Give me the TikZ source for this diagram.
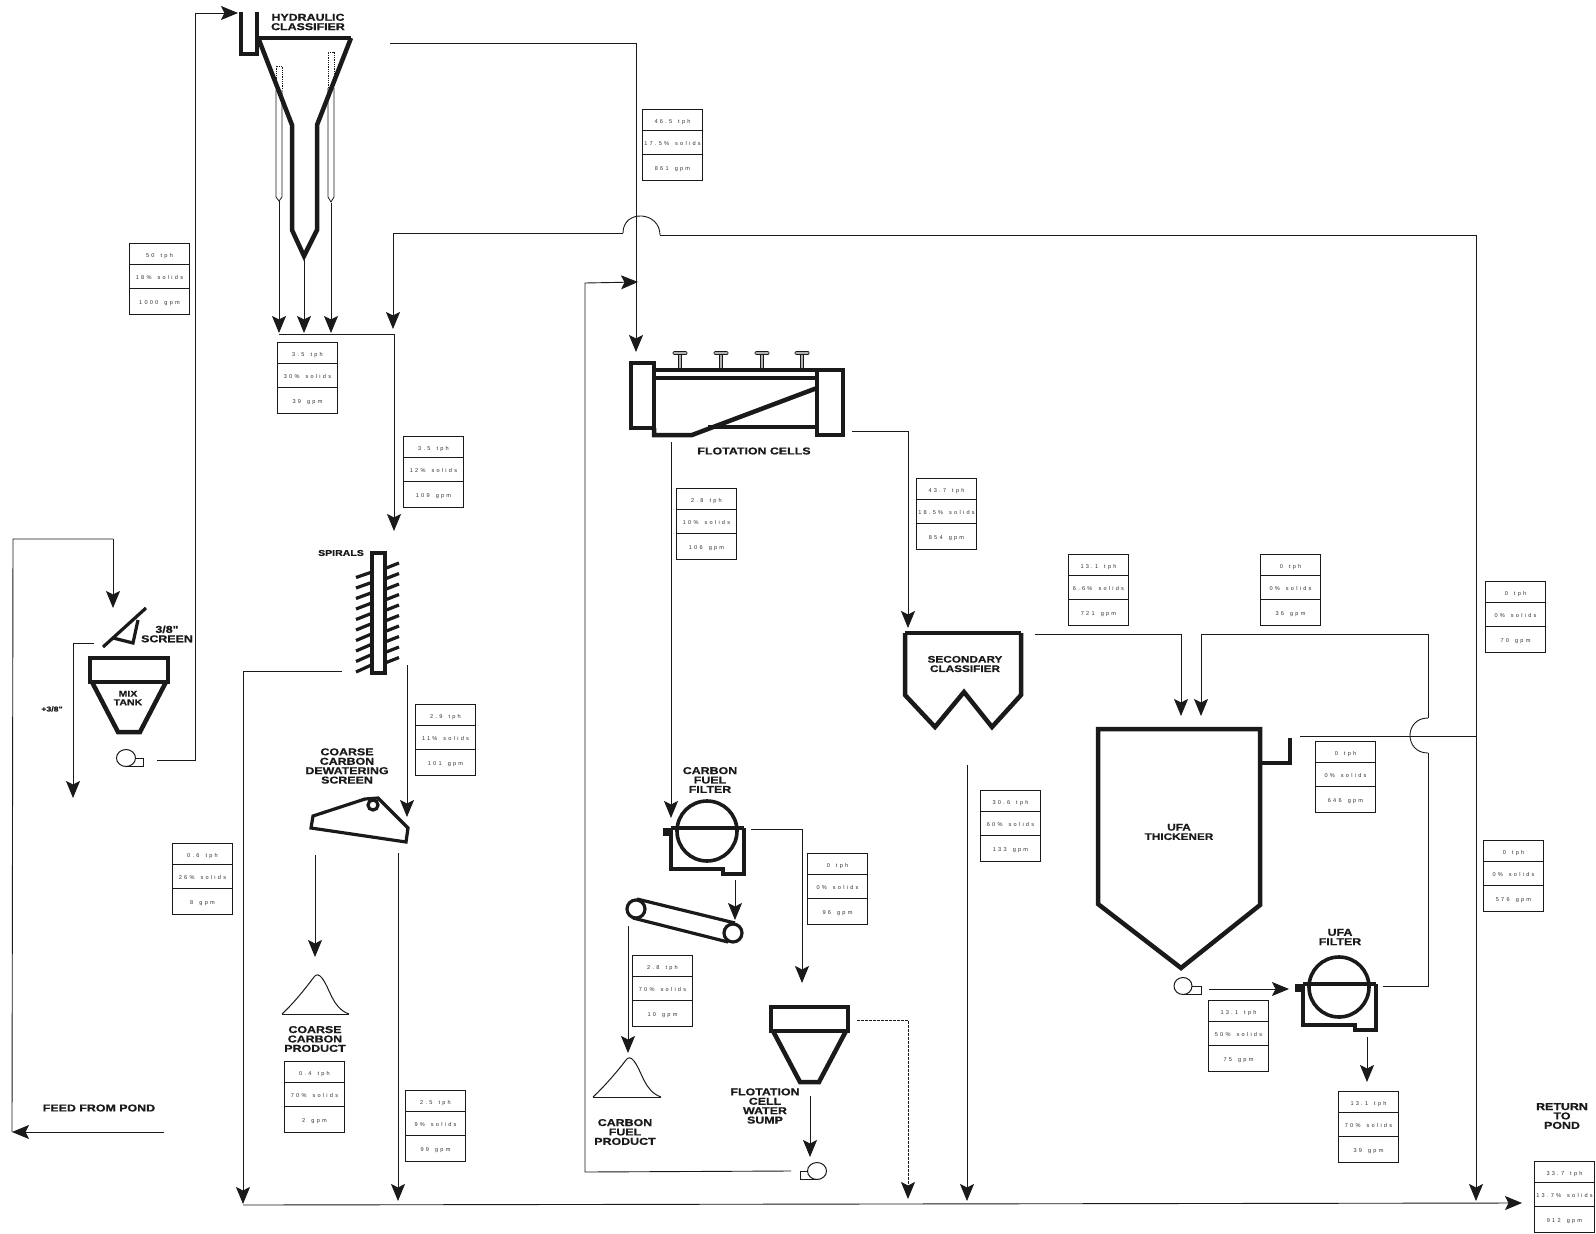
\documentclass[tikz,border=0pt]{standalone}
\usepackage{fontspec}
\setmainfont{Liberation Sans}
\newfontfamily\lab[FakeStretch=1.24,FakeBold=0.7,UprightFont=* Bold]{Liberation Sans}
\newfontfamily\tbl[LetterSpace=40,WordSpace=1.6]{Liberation Sans}
\usetikzlibrary{arrows.meta,calc}
\definecolor{ink}{HTML}{1A1A1A}
\definecolor{tinkc}{HTML}{333333}
\tikzset{
  flow/.style={draw=ink,line width=0.9pt},
  flowa/.style={flow,-{Stealth[length=17pt,width=14pt,inset=3.5pt]}},
  flowd/.style={flowa,densely dashed},
  equip/.style={draw=ink,line width=4.5pt,miter limit=6},
  equipm/.style={draw=ink,line width=3.2pt},
  thinb/.style={draw=ink,line width=1pt},
  lbl/.style={font=\lab\fontsize{10}{9.4}\selectfont,text=ink,align=center,inner sep=0pt},
  tblbox/.style={draw=ink,line width=1pt,minimum width=60pt,minimum height=70.5pt,inner sep=0pt,anchor=north west},
  tbltxt/.style={font=\tbl\fontsize{5.6}{6}\selectfont,text=tinkc,inner sep=0pt},
}
\newcommand{\flowtbl}[6]{%
  \node[tblbox] (#1) at (#2,#3) {};
  \draw[thinb] ([yshift=-21.5pt]#1.north west) -- ([yshift=-21.5pt]#1.north east);
  \draw[thinb] ([yshift=-45.5pt]#1.north west) -- ([yshift=-45.5pt]#1.north east);
  \node[tbltxt] (#1a) at ([yshift=-13.5pt]#1.north) {#4};
  \node[tbltxt] (#1b) at ([yshift=-34.5pt]#1.north) {#5};
  \node[tbltxt] (#1c) at ([yshift=-60pt]#1.north) {#6};
}
\newcommand{\filterunit}[2]{%
  \begin{scope}[shift={(#1,#2)}]
    \draw[equipm,line width=3.6pt] (-36,-3) -- (37,-3);
    \draw[equipm,line width=3.6pt] (-36,-3) -- (-36,38) -- (16,38) -- (16,43) -- (37,43) -- (37,-3);
    \draw[equipm,line width=3.6pt] (0,0) circle[radius=30];
    \fill[ink] (-44,-3) rectangle (-36,5);
  \end{scope}
}
\newcommand{\tankunit}[6]{%
  \draw[equip] (#1,#2) rectangle (#3,#4);
  \draw[equip] (#1+2,#4) -- (#5,#6) -- ({#1+#3-#5},#6) -- (#3-2,#4);
}
\begin{document}
\begin{tikzpicture}[x=1pt,y=-1pt]
\useasboundingbox (0,0) rectangle (1596,1234);
\fill[white] (0,0) rectangle (1596,1234);

% ---------- hydraulic classifier
\draw[equip] (241,12) -- (241,54) -- (257,54) -- (257,12);
\draw[equip] (351,38) -- (257,38);
\draw[equip] (259,40) -- (292,125) -- (292,230) -- (304,256) -- (317,230) -- (317,125) -- (351,38);
\draw[thinb,line width=.8pt] (276,90) -- (276,197) -- (279,201) -- (282,197) -- (282,90);
\draw[thinb,line width=.8pt] (328,88) -- (328,197) -- (331,202) -- (334,197) -- (334,88);
\draw[thinb,line width=.8pt,densely dotted] (276,90) -- (276,66) -- (282,66) -- (282,90);
\draw[thinb,line width=.8pt,densely dotted] (328,88) -- (328,52) -- (334,52) -- (334,75);
\node[lbl] (Lhyd) at (308,22) {HYDRAULIC\\CLASSIFIER};

% ---------- screen and mix tank
\draw[equipm] (103,647) -- (146,608);
\draw[equipm] (113,638) -- (133,643) -- (138,620);
\tankunit{90}{658}{168}{682}{118}{732}
\node[lbl,font=\lab\fontsize{8.5}{8.6}\selectfont] (Lmix) at (128,698) {MIX\\TANK};
\node[lbl] (Lscr) at (167,634) {3/8"\\SCREEN};
\node[lbl,font=\lab\fontsize{7}{8}\selectfont] (Lplus) at (52,709) {+3/8"};
\draw[thinb] (126,758) ellipse[x radius=9.5,y radius=8.5];
\draw[thinb] (135,758) -- (143,758) -- (143,766) -- (126,766);

% ---------- spirals
\draw[equipm] (372,553) rectangle (385,673);
\foreach \k in {0,...,9}{
  \draw[equipm] (372,{572+10.3*\k}) -- (356,{577.5+10.5*\k});
  \draw[equipm] (385,{568.5+10.5*\k}) -- (399,{563+10.5*\k});
}
\node[lbl,font=\lab\fontsize{8.5}{9}\selectfont] (Lspi) at (341,553) {SPIRALS};

% ---------- coarse carbon screen
\draw[equipm] (311,828) -- (313,816) -- (365,799) -- (378,798) -- (408,828) -- (406,842) -- cycle;
\draw[equipm,fill=white] (373,805) circle[radius=5];
\node[lbl] (Lcds) at (347,766) {COARSE\\CARBON\\DEWATERING\\SCREEN};

% ---------- coarse carbon product
\draw[thinb] (282,1014) -- (349,1014);
\draw[thinb] (282,1014) .. controls (295,1002) and (308,985) .. (314,977) .. controls (316,974) and (319,974) .. (322,978) .. controls (330,988) and (332,1008) .. (349,1014);
\node[lbl] (Lccp) at (315,1039) {COARSE\\CARBON\\PRODUCT};

% ---------- flotation cells
\draw[equip] (631,363) rectangle (654,428);
\draw[equip] (654,370) -- (817,370);
\draw[equip] (654,378) -- (817,378);
\draw[equip] (817,370) rectangle (843,435);
\draw[equip] (654,428) -- (654,435) -- (692,435) -- (817,388);
\draw[equip] (708,427) -- (817,427);
\foreach \vx in {680,721,762,802}{
  \draw[thinb,fill=gray!60,line width=.7pt] (\vx-1.5,354) rectangle (\vx+1.5,368);
  \draw[thinb,fill=gray!60,line width=.7pt,rounded corners=1pt] (\vx-7,351.5) rectangle (\vx+7,354.5);
}
\node[lbl] (Lflo) at (754,451) {FLOTATION CELLS};

% ---------- carbon fuel filter, belt, product
\filterunit{707}{831}
\node[lbl] (Lcff) at (710,780) {CARBON\\FUEL\\FILTER};
\draw[equipm] (637,899) -- (735,923);
\draw[equipm] (633,918) -- (728,942);
\draw[equipm,fill=white] (636,909) circle[radius=9];
\draw[equipm,fill=white] (733,933) circle[radius=9];
\draw[thinb] (593,1097) -- (661,1097);
\draw[thinb] (593,1097) .. controls (606,1085) and (620,1068) .. (626,1060) .. controls (628,1057) and (631,1057) .. (634,1061) .. controls (642,1071) and (644,1091) .. (661,1097);
\node[lbl] (Lcfp) at (625,1132) {CARBON\\FUEL\\PRODUCT};

% ---------- flotation cell water sump
\tankunit{771}{1007}{848}{1031}{800}{1082}
\node[lbl] (Lsump) at (765,1106) {FLOTATION\\CELL\\WATER\\SUMP};
\draw[thinb] (817,1171) ellipse[x radius=9.5,y radius=8.5];
\draw[thinb] (808,1171) -- (800,1171) -- (800,1179) -- (817,1179);

% ---------- secondary classifier
\draw[equip] (905,633) -- (1021,633);
\draw[equip] (905,633) -- (905,695) -- (935,727) -- (964,692) -- (992,727) -- (1021,695) -- (1021,633);
\node[lbl,font=\lab\fontsize{9.5}{9.4}\selectfont] (Lsec) at (965,664) {SECONDARY\\CLASSIFIER};

% ---------- UFA thickener
\draw[equip] (1098,729) -- (1260,729) -- (1260,905) -- (1181,968) -- (1098,904) -- cycle;
\draw[equip] (1260,763) -- (1290,763) -- (1290,738);
\node[lbl,font=\lab\fontsize{9.5}{9.4}\selectfont] (Lufa) at (1179,832) {UFA\\THICKENER};
\draw[thinb] (1183,986) ellipse[x radius=9,y radius=8.5];
\draw[thinb] (1192,986) -- (1201,986) -- (1201,994) -- (1183,994);

% ---------- UFA filter
\filterunit{1339}{987}
\node[lbl] (Luff) at (1340,937) {UFA\\FILTER};

\node[lbl] (Lfeed) at (99,1108) {FEED FROM POND};
\node[lbl] (Lret) at (1562,1116) {RETURN\\TO\\POND};

% ---------- tables
\flowtbl{t1}{642}{109}{46.5 tph}{17.5\% solids}{861 gpm}
\flowtbl{t2}{129}{243}{50 tph}{18\% solids}{1000 gpm}
\flowtbl{t3}{277}{342}{3.5 tph}{30\% solids}{39 gpm}
\flowtbl{t4}{403}{436}{3.5 tph}{12\% solids}{109 gpm}
\flowtbl{t5}{676}{488}{2.8 tph}{10\% solids}{106 gpm}
\flowtbl{t6}{916}{478}{43.7 tph}{18.5\% solids}{854 gpm}
\flowtbl{t7}{1068}{554}{13.1 tph}{6.6\% solids}{721 gpm}
\flowtbl{t8}{1260}{554}{0 tph}{0\% solids}{36 gpm}
\flowtbl{t9}{1485}{581}{0 tph}{0\% solids}{70 gpm}
\flowtbl{t10}{415}{704}{2.9 tph}{11\% solids}{101 gpm}
\flowtbl{t11}{980}{790}{30.6 tph}{60\% solids}{133 gpm}
\flowtbl{t12}{1315}{741}{0 tph}{0\% solids}{646 gpm}
\flowtbl{t13}{172}{843}{0.6 tph}{26\% solids}{8 gpm}
\flowtbl{t14}{807}{853}{0 tph}{0\% solids}{96 gpm}
\flowtbl{t15}{1483}{840}{0 tph}{0\% solids}{576 gpm}
\flowtbl{t16}{632}{955}{2.8 tph}{70\% solids}{10 gpm}
\flowtbl{t17}{1208}{1000}{13.1 tph}{50\% solids}{75 gpm}
\flowtbl{t18}{284}{1061}{0.4 tph}{70\% solids}{2 gpm}
\flowtbl{t19}{405}{1090}{2.5 tph}{9\% solids}{99 gpm}
\flowtbl{t20}{1338}{1091}{13.1 tph}{70\% solids}{39 gpm}
\flowtbl{t21}{1534}{1161}{33.7 tph}{13.7\% solids}{912 gpm}

% ---------- connector end points
\coordinate (mixout) at (157,760);
\coordinate (hydin) at (238,13);
\coordinate (hydover) at (390,43);
\coordinate (floin) at (636,352);
\coordinate (uL) at (279,201); \coordinate (uLt) at (279,333);
\coordinate (uM) at (304,260); \coordinate (uMt) at (304,333);
\coordinate (uR) at (331,203); \coordinate (uRt) at (331,333);
\coordinate (colL) at (279,334);
\coordinate (spiin) at (394,531);
\coordinate (retL) at (393,329);
\coordinate (retH1) at (623,233);
\coordinate (retH2) at (660,235);
\coordinate (retcor) at (1476,235);
\coordinate (retend) at (1476,1201);
\coordinate (thkov) at (1300,736);
\coordinate (jmpA) at (1428,718);
\coordinate (jmpB) at (1428,753);
\coordinate (thkin1) at (1201,716);
\coordinate (thkin2) at (1181,716);
\coordinate (secovr) at (1035,634);
\coordinate (ufout) at (1383,986);
\coordinate (floR) at (852,431);
\coordinate (secin) at (908,628);
\coordinate (floB) at (671,442);
\coordinate (cffin) at (671,818);
\coordinate (cffR) at (751,829);
\coordinate (sumpin) at (802,983);
\coordinate (cffB) at (735,880);
\coordinate (beltin) at (735,920);
\coordinate (beltB) at (628,926);
\coordinate (cfpin) at (628,1053);
\coordinate (sumpB) at (810,1096);
\coordinate (sumpP) at (810,1157);
\coordinate (pumpL) at (791,1171);
\coordinate (florecy) at (638,282);
\coordinate (sumpD) at (857,1020);
\coordinate (dashE) at (908,1199);
\coordinate (spiL) at (342,671);
\coordinate (spiLe) at (243,1204);
\coordinate (spiR) at (407,665);
\coordinate (cdsin) at (407,817);
\coordinate (cdsB) at (315,855);
\coordinate (ccpin) at (315,957);
\coordinate (cdsR) at (398,853);
\coordinate (cdsRe) at (398,1201);
\coordinate (secB) at (967,765);
\coordinate (secBe) at (967,1201);
\coordinate (mainL) at (243,1205);
\coordinate (mainR) at (1522,1203);
\coordinate (feedR) at (164,1132);
\coordinate (feedL) at (12,1132);
\coordinate (feedUp) at (13,539);
\coordinate (scrin) at (113,608);
\coordinate (scrO) at (94,643);
\coordinate (scrOe) at (73,798);
\coordinate (ufpO) at (1209,989);
\coordinate (ufpE) at (1289,989);
\coordinate (ufB) at (1367,1037);
\coordinate (ufBe) at (1367,1082);

% ---------- connectors
\draw[flowa] (mixout) -- (195,760) -- (195,13) -- (hydin);
\draw[flowa] (hydover) -- (636,43) -- (floin);
\draw[flowa] (uL) -- (uLt);
\draw[flowa] (uM) -- (uMt);
\draw[flowa] (uR) -- (uRt);
\draw[flowa] (colL) -- (394,334) -- (spiin);
\draw[flowa] (retH1) -- (393,233) -- (retL);
\draw[flow] (retH1) .. controls (623,209) and (660,211) .. (retH2);
\draw[flow] (retH2) -- (retcor);
\draw[flowa] (retcor) -- (retend);
\draw[flow] (thkov) -- (1476,736);
\draw[flowa] (jmpA) -- (1428,634) -- (1201,634) -- (thkin1);
\draw[flow] (jmpA) .. controls (1404,718) and (1404,753) .. (jmpB);
\draw[flow] (jmpB) -- (1428,986) -- (ufout);
\draw[flowa] (secovr) -- (1181,634) -- (thkin2);
\draw[flowa] (floR) -- (908,431) -- (secin);
\draw[flowa] (floB) -- (cffin);
\draw[flowa] (cffR) -- (802,829) -- (sumpin);
\draw[flowa] (cffB) -- (beltin);
\draw[flowa] (beltB) -- (cfpin);
\draw[flowa] (sumpB) -- (sumpP);
\draw[flowa] (pumpL) -- (585,1172) -- (585,283) -- (florecy);
\draw[flowd,line width=.9pt,dash pattern=on 2.5pt off 1.5pt] (sumpD) -- (908,1020) -- (dashE);
\draw[flowa] (spiL) -- (243,671) -- (spiLe);
\draw[flowa] (spiR) -- (cdsin);
\draw[flowa] (cdsB) -- (ccpin);
\draw[flowa] (cdsR) -- (cdsRe);
\draw[flowa] (secB) -- (secBe);
\draw[flowa] (mainL) -- (mainR);
\draw[flowa] (feedR) -- (feedL);
\draw[flow] (feedL) -- (feedUp) -- (113,539);
\draw[flowa] (113,539) -- (scrin);
\draw[flowa] (scrO) -- (73,643) -- (scrOe);
\draw[flowa] (ufpO) -- (ufpE);
\draw[flowa] (ufB) -- (ufBe);
\end{tikzpicture}
\end{document}
